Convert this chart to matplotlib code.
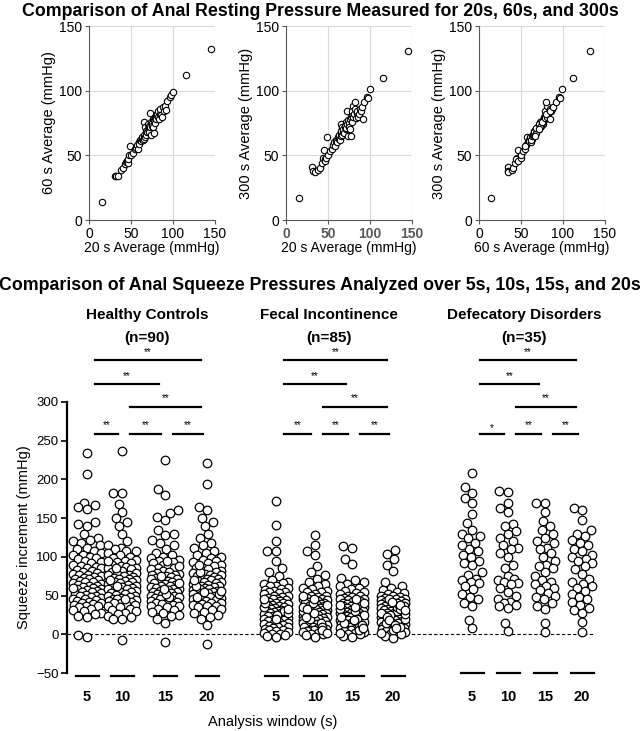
"""
Anal resting pressure (top) and squeeze increment (bottom) comparison figure.
"""
import numpy as np
import matplotlib
matplotlib.use('Agg')
import matplotlib.pyplot as plt

plt.rcParams['font.family'] = ['Liberation Sans', 'DejaVu Sans']

# resting pressure per subject (mmHg), averaged over 20 s, 60 s and 300 s
rest_20 = [15, 31, 32, 34, 38, 41, 43, 44, 45, 46, 47, 48, 49, 50, 52, 55, 56, 57, 58, 59,
           60, 61, 62, 63, 63, 64, 65, 65, 66, 66, 67, 67, 68, 68, 69, 70, 70, 71, 72, 72,
           73, 73, 74, 74, 75, 75, 76, 76, 77, 77, 78, 78, 79, 80, 80, 81, 82, 82, 83, 84,
           85, 86, 87, 88, 89, 90, 92, 93, 96, 98, 100, 116, 145]
rest_60 = [14, 34, 34, 34, 39, 40, 43, 45, 46, 44, 47, 50, 57, 50, 52, 55, 56, 58, 55, 60,
           59, 62, 61, 63, 64, 62, 65, 63, 76, 66, 72, 64, 66, 69, 68, 70, 74, 71, 68, 73,
           83, 72, 66, 76, 75, 73, 72, 78, 67, 77, 80, 75, 79, 81, 78, 82, 80, 84, 78, 82,
           86, 81, 80, 87, 84, 88, 85, 92, 95, 97, 99, 112, 132]
rest_300 = [17, 41, 38, 37, 39, 40, 44, 48, 54, 47, 46, 48, 64, 50, 53, 55, 58, 60, 57, 62,
            61, 60, 64, 63, 66, 62, 67, 65, 74, 69, 72, 66, 68, 70, 67, 72, 73, 70, 71, 76,
            84, 74, 65, 77, 75, 72, 70, 78, 65, 80, 81, 76, 84, 88, 80, 82, 91, 86, 79, 83,
            84, 80, 82, 86, 84, 87, 78, 91, 95, 94, 101, 110, 131]

rest_panels = [(rest_20, rest_60, '20 s Average (mmHg)', '60 s Average (mmHg)'),
               (rest_20, rest_300, '20 s Average (mmHg)', '300 s Average (mmHg)'),
               (rest_60, rest_300, '60 s Average (mmHg)', '300 s Average (mmHg)')]

# squeeze increment (mmHg) for the 5, 10, 15, 20 s analysis windows
windows = ['5', '10', '15', '20']
groups = ['Healthy Controls', 'Fecal Incontinence', 'Defecatory Disorders']
group_n = ['(n=90)', '(n=85)', '(n=35)']

hc_5 = [234, 207, 170, 167, 164, 162, 145, 142, 140, 130, 125, 122, 120, 118, 115, 112, 110, 108,
        105, 103, 102, 100, 98, 97, 95, 93, 92, 90, 88, 87, 86, 85, 83, 82, 80, 79, 78, 77, 76,
        75, 74, 73, 72, 71, 70, 69, 68, 67, 66, 65, 64, 63, 62, 61, 60, 59, 58, 57, 56, 55, 54,
        53, 52, 51, 50, 49, 48, 47, 46, 45, 44, 43, 42, 41, 40, 39, 38, 37, 36, 35, 33, 31, 30,
        28, 26, 24, 22, -1, -3, 60]
hc_10 = [237, 183, 182, 168, 158, 150, 145, 140, 130, 120, 115, 112, 110, 108, 107, 105, 103, 100,
         98, 96, 95, 93, 92, 90, 88, 87, 86, 85, 84, 82, 80, 79, 78, 77, 76, 75, 74, 73, 72, 71,
         70, 69, 68, 67, 66, 65, 64, 63, 62, 61, 60, 59, 58, 57, 56, 55, 54, 53, 52, 51, 50, 49,
         48, 47, 46, 45, 44, 43, 42, 41, 40, 39, 38, 37, 35, 33, 32, 30, 28, 26, 24, 22, 20, 20,
         -8, 45, 62, 70, 85, 95]
hc_15 = [225, 187, 180, 160, 156, 152, 147, 135, 130, 128, 122, 118, 115, 110, 105, 102, 100, 98,
         96, 95, 93, 92, 90, 88, 86, 85, 84, 82, 80, 79, 78, 77, 76, 75, 74, 73, 72, 71, 70, 69,
         68, 67, 66, 65, 64, 63, 62, 61, 60, 59, 58, 57, 56, 55, 54, 53, 52, 51, 50, 49, 48, 47,
         46, 45, 44, 43, 42, 41, 40, 39, 38, 37, 36, 35, 33, 31, 29, 27, 25, 23, 20, 15, -10, 48,
         52, 58, 66, 75, 88, 95]
hc_20 = [221, 194, 165, 160, 150, 145, 140, 130, 125, 118, 115, 112, 108, 105, 102, 100, 98, 96,
         95, 94, 92, 90, 88, 86, 85, 84, 82, 80, 79, 78, 77, 76, 75, 74, 73, 72, 71, 70, 69, 68,
         67, 66, 65, 64, 63, 62, 61, 60, 59, 58, 57, 56, 55, 54, 53, 52, 51, 50, 49, 48, 47, 46,
         45, 44, 43, 42, 41, 40, 39, 38, 37, 36, 35, 33, 31, 29, 27, 25, 22, 20, 12, -12, 48, 52,
         56, 62, 70, 80, 90, 55]

fi_5 = [172, 141, 121, 108, 107, 95, 85, 80, 75, 70, 68, 66, 65, 63, 62, 60, 58, 57, 56, 55, 54,
        53, 52, 50, 49, 48, 47, 46, 45, 44, 43, 42, 41, 40, 39, 38, 37, 36, 35, 34, 33, 32, 31,
        30, 29, 28, 27, 26, 25, 24, 23, 22, 21, 20, 19, 18, 17, 16, 15, 14, 13, 12, 11, 10, 9, 8,
        7, 6, 5, 4, 3, 2, 1, 0, -1, -2, -3, 30, 25, 35, 40, 20, 45, 28, 33]
fi_10 = [128, 115, 107, 102, 88, 80, 76, 72, 68, 65, 62, 60, 58, 56, 55, 54, 52, 50, 49, 48, 47,
         46, 45, 44, 43, 42, 41, 40, 39, 38, 37, 36, 35, 34, 33, 32, 31, 30, 29, 28, 27, 26, 25,
         24, 23, 22, 21, 20, 19, 18, 17, 16, 15, 14, 13, 12, 11, 10, 9, 8, 7, 6, 5, 4, 3, 2, 1,
         0, -1, -3, 30, 25, 35, 40, 20, 45, 28, 33, 15, 10, 38, 22, 50, 5, 2]
fi_15 = [114, 112, 97, 91, 73, 70, 67, 65, 62, 60, 58, 56, 55, 53, 52, 50, 49, 48, 47, 46, 45,
         44, 43, 42, 41, 40, 39, 38, 37, 36, 35, 34, 33, 32, 31, 30, 29, 28, 27, 26, 25, 24, 23,
         22, 21, 20, 19, 18, 17, 16, 15, 14, 13, 12, 11, 10, 9, 8, 7, 6, 5, 4, 3, 2, 1, 0, -2,
         -4, 30, 25, 35, 40, 20, 45, 28, 33, 15, 10, 38, 22, 18, 5, 2, 12, 8]
fi_20 = [109, 104, 97, 90, 82, 68, 62, 60, 57, 55, 53, 52, 50, 49, 48, 47, 46, 45, 44, 43, 42,
         41, 40, 39, 38, 37, 36, 35, 34, 33, 32, 31, 30, 29, 28, 27, 26, 25, 24, 23, 22, 21, 20,
         19, 18, 17, 16, 15, 14, 13, 12, 11, 10, 9, 8, 7, 6, 5, 4, 3, 2, 1, 0, -2, -5, 30, 25,
         35, 40, 20, 45, 28, 33, 15, 10, 38, 22, 18, 5, 2, 12, 8, 26, 31, 42]

dd_5 = [208, 190, 183, 176, 170, 155, 144, 135, 130, 127, 125, 118, 110, 107, 103, 100, 95, 92,
        89, 80, 77, 72, 70, 68, 66, 62, 58, 52, 48, 45, 40, 37, 18, 8, 115]
dd_10 = [185, 184, 170, 163, 158, 143, 140, 133, 130, 125, 120, 115, 112, 110, 100, 90, 85, 75,
         72, 70, 68, 66, 65, 60, 55, 50, 45, 42, 40, 38, 36, 34, 14, 4, 105]
dd_15 = [170, 169, 158, 146, 140, 135, 130, 125, 120, 118, 112, 110, 105, 100, 95, 90, 85, 80,
         75, 70, 68, 65, 62, 60, 57, 53, 50, 48, 45, 40, 36, 33, 14, 3, 88]
dd_20 = [163, 160, 148, 135, 130, 127, 122, 118, 115, 110, 107, 103, 100, 97, 92, 88, 84, 78, 72,
         68, 65, 62, 60, 56, 52, 48, 45, 42, 38, 34, 31, 28, 16, 3, 95]

squeeze = [[hc_5, hc_10, hc_15, hc_20],
           [fi_5, fi_10, fi_15, fi_20],
           [dd_5, dd_10, dd_15, dd_20]]

# significance marks per group: (from window, to window, label), drawn bottom row first
sig_pairs = [[(0, 1, '**'), (1, 2, '**'), (2, 3, '**'), (1, 3, '**'), (0, 2, '**'), (0, 3, '**')],
             [(0, 1, '**'), (1, 2, '**'), (2, 3, '**'), (1, 3, '**'), (0, 2, '**'), (0, 3, '**')],
             [(0, 1, '*'), (1, 2, '**'), (2, 3, '**'), (1, 3, '**'), (0, 2, '**'), (0, 3, '**')]]


def swarm_offsets(vals, half, diam=8.3, px_per_unit=0.78):
    """Simple beeswarm: put each point as close to the centre as it fits."""
    vals = np.asarray(vals, dtype=float)
    cands = np.arange(-half, half + 0.1, 1.0)
    cands = cands[np.argsort(np.abs(cands), kind='stable')]
    xs = np.zeros(len(vals))
    placed_x, placed_y = [], []
    for i in np.argsort(vals, kind='stable'):
        y = vals[i] * px_per_unit
        best, best_d = 0.0, -1.0
        for c in cands:
            if placed_x:
                d = np.min(np.hypot(np.array(placed_x) - c, np.array(placed_y) - y))
            else:
                d = 99.0
            if d >= diam:
                best = c
                break
            if d > best_d:
                best_d, best = d, c
        xs[i] = best
        placed_x.append(best)
        placed_y.append(y)
    return xs


W, H = 640, 731
fig = plt.figure(figsize=(W / 100, H / 100), dpi=100)


def fig_rect(x0, x1, y_top, y_bot):
    return [x0 / W, 1 - y_bot / H, (x1 - x0) / W, (y_bot - y_top) / H]


fig.text(320 / W, 1 - 12 / H, 'Comparison of Anal Resting Pressure Measured for 20s, 60s, and 300s',
         ha='center', va='center', fontsize=12.8, fontweight='bold')

# ---- top: resting pressure scatter panels
panel_left = [89, 286, 479]
for k, (xv, yv, xl, yl) in enumerate(rest_panels):
    ax = fig.add_axes(fig_rect(panel_left[k], panel_left[k] + 126, 26, 220))
    ax.plot(xv, yv, 'o', ms=4.6, mfc='white', mec='black', mew=0.8, clip_on=False, zorder=3)
    ax.set_xlim(0, 150)
    ax.set_ylim(0, 150)
    ax.set_xticks([0, 50, 100, 150])
    ax.set_yticks([0, 50, 100, 150])
    ax.grid(True, color='#d9d9d9', lw=0.8)
    ax.set_axisbelow(True)
    for s in ['top', 'right']:
        ax.spines[s].set_visible(False)
    for s in ['left', 'bottom']:
        ax.spines[s].set_color('#595959')
        ax.spines[s].set_linewidth(0.8)
    ax.tick_params(direction='out', length=3, width=0.8, color='#595959', labelsize=10, pad=2)
    if k == 1:
        for lab in ax.get_xticklabels():
            lab.set_fontweight('bold')
            lab.set_color('#595959')
    ax.set_xlabel(xl, fontsize=10, labelpad=0)
    ax.set_ylabel(yl, fontsize=10.5, labelpad=2)

# ---- bottom: squeeze increment swarms
fig.text(320 / W, 1 - 286 / H, 'Comparison of Anal Squeeze Pressures Analyzed over 5s, 10s, 15s, and 20s',
         ha='center', va='center', fontsize=12.8, fontweight='bold')

col_pos = [[87, 122, 165, 207], [276, 315, 352, 393], [472, 508, 545, 582]]
group_center = [147, 329, 524]
half_width = [14, 12, 10]
base_bar_y = [-54, -54, -50]
sig_rows = [259, 294, 323, 354]   # mmHg levels of the bracket rows
row_of = [0, 0, 0, 1, 2, 3]

ax = fig.add_axes(fig_rect(67, 600, 402, 673))
ax.set_xlim(67, 600)
ax.set_ylim(-50, 300)
for s in ['top', 'right', 'bottom']:
    ax.spines[s].set_visible(False)
ax.spines['left'].set_linewidth(1.6)
ax.set_yticks([-50, 0, 50, 100, 150, 200, 250, 300])
ax.tick_params(axis='y', direction='out', length=4, width=1.2, labelsize=9.5, pad=2)
ax.set_ylabel('Squeeze increment (mmHg)', fontsize=10.5, labelpad=4)

ax.plot([67, 594], [0, 0], ls=(0, (3, 2)), color='black', lw=0.8, zorder=1)

all_pos, all_lab = [], []
for g in range(3):
    for w in range(4):
        vals = squeeze[g][w]
        xs = col_pos[g][w] + swarm_offsets(vals, half_width[g])
        ax.scatter(xs, vals, s=38, facecolor='white', edgecolor='black', lw=0.9,
                   zorder=3, clip_on=False)
        ax.plot([col_pos[g][w] - 11.5, col_pos[g][w] + 11.5], [base_bar_y[g]] * 2,
                color='black', lw=1.6, clip_on=False)
        all_pos.append(col_pos[g][w])
        all_lab.append(windows[w])

    # significance brackets
    for j, (a, b, lab) in enumerate(sig_pairs[g]):
        r = row_of[j]
        x0 = col_pos[g][a] + 8
        x1 = col_pos[g][b] - (4 if r == 0 else 6)
        yv = sig_rows[r]
        ax.plot([x0, x1], [yv, yv], color='black', lw=1.6, clip_on=False)
        dy = 7 if lab == '*' else 11
        ax.text((x0 + x1) / 2, yv + dy, lab, ha='center', va='center', fontsize=7,
                clip_on=False)

    ax.text(group_center[g], (634 - 312.7) / 0.78, groups[g], ha='center', va='center',
            fontsize=11, fontweight='bold', clip_on=False)
    ax.text(group_center[g], (634 - 336) / 0.78, group_n[g], ha='center', va='center',
            fontsize=11, fontweight='bold', clip_on=False)

ax.set_xticks(all_pos)
ax.set_xticklabels(all_lab, fontweight='bold', fontsize=10.5)
ax.tick_params(axis='x', length=0, pad=12)

fig.text(273 / W, 1 - 722 / H, 'Analysis window (s)', ha='center', va='center', fontsize=10.5)

fig.savefig('out.png', dpi=100)
